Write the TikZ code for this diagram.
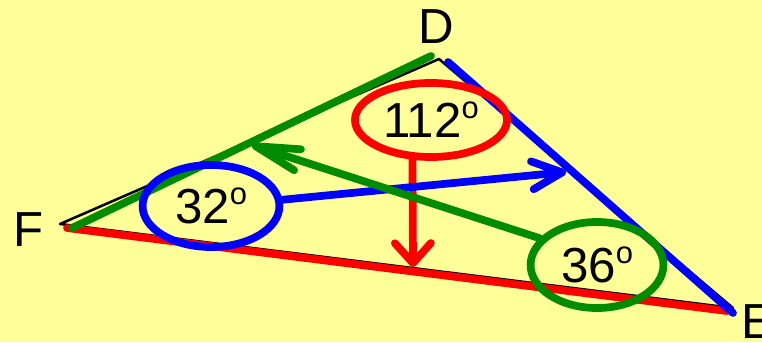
\documentclass[tikz,border=0pt]{standalone}
\usepackage{fontspec}
\setmainfont{Liberation Sans}
\usetikzlibrary{shapes.geometric,arrows.meta,calc}

\definecolor{paper}{HTML}{FFFF99}
\definecolor{penred}{RGB}{255,0,0}
\definecolor{pengreen}{RGB}{0,140,0}
\definecolor{penblue}{RGB}{0,0,255}
\newcommand{\degmark}{\raisebox{13.5pt}{\fontsize{22}{22}\selectfont o}}

\begin{document}
\begin{tikzpicture}[x=0.025cm, y=-0.025cm, every node/.style={font=\fontsize{35}{42}\selectfont},
    pen/.style={line width=5.5pt, line cap=round, line join=round},
    ring/.style={pen, ellipse, inner sep=0pt}]
    \fill[paper] (0,0) rectangle (762,342);
    \useasboundingbox (0,0) rectangle (762,342);

    % triangle
    \coordinate (F) at (60,224);
    \coordinate (D) at (439,59);
    \coordinate (E) at (733,308);
    \node (lblD) at (436,27) {D};
    \node (lblF) at (29,230) {F};
    \node (lblE) at (758,322) {E};
    \draw[line width=1.8pt, line join=round] (F) -- (D) -- (E) -- cycle;

    % marked sides
    \draw[pen, penred] ($(F)+(7,4)$) -- ($(E)+(-6,3)$);
    \draw[pen, pengreen] ($(F)+(12,4)$) -- ($(D)+(-8,-3)$);
    \draw[pen, penblue] ($(D)+(9,3)$) -- ($(E)+(0,5)$);

    % angles
    \node[ring, draw=penred, minimum width=3.8cm, minimum height=1.85cm] (angD) at (431,120) {112\degmark\hspace{6pt}};
    \node[ring, draw=penblue, minimum width=3.42cm, minimum height=2.05cm] (angF) at (211,206) {32\degmark\hspace{4pt}};
    \node[ring, draw=pengreen, minimum width=3.32cm, minimum height=2.15cm] (angE) at (597,265) {36\degmark};

    \coordinate (footD) at (413,267);
    \coordinate (tipF) at (566,172);
    \coordinate (tipE) at (252,145);
    \draw[pen, penred, -{Straight Barb[round, length=0.5cm, width=0.9cm]}] (angD.245) -- (footD);
    \draw[pen, penblue, -{Straight Barb[round, length=0.75cm, width=0.7cm]}] (angF.5) -- (tipF);
    \draw[pen, pengreen, -{Straight Barb[round, length=1.1cm, width=0.55cm]}] (angE.155) -- (tipE);
\end{tikzpicture}
\end{document}
